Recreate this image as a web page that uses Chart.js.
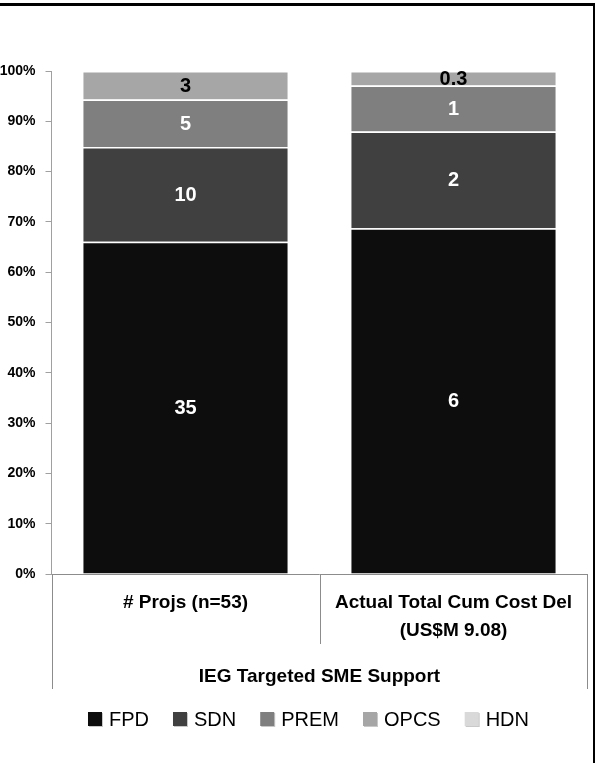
<!DOCTYPE html>
<html>
<head>
<meta charset="utf-8">
<script src="https://cdn.jsdelivr.net/npm/chart.js@4.4.1/dist/chart.umd.min.js"></script>
<style>
  html, body { margin: 0; padding: 0; background: #fff; }
  #wrap { position: relative; width: 595px; height: 763px; overflow: hidden; }
  #frameTop { position: absolute; left: 0; top: 3px; width: 595px; height: 3px; background: #000; }
  #frameRight { position: absolute; left: 593px; top: 3px; width: 2px; height: 760px; background: #000; }
</style>
</head>
<body>
<div id="wrap">
  <canvas id="chart" width="595" height="763"></canvas>
  <div id="frameTop"></div>
  <div id="frameRight"></div>
</div>
<script>
// categories and group heading under the axis
const categories = [["# Projs (n=53)"], ["Actual Total Cum Cost Del", "(US$M 9.08)"]];
const groupLabel = "IEG Targeted SME Support";

// series (stack order bottom -> top)
const seriesNames = ["FPD", "SDN", "PREM", "OPCS", "HDN"];
const seriesColors = ["#0d0d0d", "#404040", "#7f7f7f", "#a6a6a6", "#d9d9d9"];
const labelColors = ["#fff", "#fff", "#fff", "#000", "#000"];

// values
const projCounts = [35, 10, 5, 3, 0];          // number of projects
const costUSDm = [6.24, 1.75, 0.83, 0.26, 0];  // US$M, total 9.08

const yTicks = [0, 10, 20, 30, 40, 50, 60, 70, 80, 90, 100];

const FONT = "'Liberation Sans', Arial, sans-serif";

const sum = arr => arr.reduce((a, b) => a + b, 0);
const projTotal = sum(projCounts);
const costTotal = sum(costUSDm);

// labels on the bars: whole numbers, small ones with one decimal
const fmt = v => (v >= 0.5 ? String(Math.round(v)) : v.toFixed(1));

const datasets = seriesNames.map((name, i) => ({
  label: name,
  data: [projCounts[i] / projTotal * 100, costUSDm[i] / costTotal * 100],
  raw: [projCounts[i], costUSDm[i]],
  backgroundColor: seriesColors[i],
  borderColor: "#ffffff",
  borderWidth: { top: 1.5, left: 0, right: 0, bottom: 0 },
  borderSkipped: false,
  labelColor: labelColors[i],
  categoryPercentage: 1,
  barPercentage: 0.763,
}));

// value labels in the middle of each segment
const valueLabels = {
  id: "valueLabels",
  afterDatasetsDraw(chart) {
    const ctx = chart.ctx;
    ctx.save();
    ctx.font = "bold 20px " + FONT;
    ctx.textAlign = "center";
    ctx.textBaseline = "middle";
    chart.data.datasets.forEach((ds, i) => {
      chart.getDatasetMeta(i).data.forEach((bar, j) => {
        const v = ds.raw[j];
        if (!v) return;
        ctx.fillStyle = ds.labelColor;
        ctx.fillText(fmt(v), bar.x, (bar.y + bar.base) / 2 + 1);
      });
    });
    ctx.restore();
  },
};

// category dividers below the axis + legend row
const axisDressing = {
  id: "axisDressing",
  afterDraw(chart) {
    const ctx = chart.ctx;
    const area = chart.chartArea;
    const xs = chart.scales.x;
    ctx.save();
    ctx.strokeStyle = "#8c8c8c";
    ctx.lineWidth = 1;
    const mid = Math.round((xs.getPixelForValue(0) + xs.getPixelForValue(1)) / 2) + 0.5;
    ctx.beginPath();
    ctx.moveTo(Math.round(area.left) + 0.5, area.bottom);
    ctx.lineTo(Math.round(area.left) + 0.5, xs.bottom);
    ctx.moveTo(Math.round(area.right) - 0.5, area.bottom);
    ctx.lineTo(Math.round(area.right) - 0.5, xs.bottom);
    ctx.moveTo(mid, area.bottom);
    ctx.lineTo(mid, area.bottom + 70);
    ctx.stroke();

    // legend
    ctx.font = "20px " + FONT;
    ctx.textBaseline = "middle";
    ctx.textAlign = "left";
    const box = 14, gapText = 7, gapItem = 24;
    const widths = seriesNames.map(n => box + gapText + ctx.measureText(n).width);
    const total = sum(widths) + gapItem * (widths.length - 1);
    let x = (area.left + area.right) / 2 - 11 - total / 2;
    const y = xs.bottom + 30;
    seriesNames.forEach((n, i) => {
      ctx.fillStyle = "#c8c8c8";
      ctx.fillRect(x + 1, y - box / 2 + 1, box, box);
      ctx.fillStyle = seriesColors[i];
      ctx.fillRect(x, y - box / 2, box, box);
      ctx.fillStyle = "#000";
      ctx.fillText(n, x + box + gapText, y + 1);
      x += widths[i] + gapItem;
    });
    ctx.restore();
  },
};

new Chart(document.getElementById("chart"), {
  type: "bar",
  data: { labels: categories, datasets },
  options: {
    responsive: false,
    animation: false,
    devicePixelRatio: 1,
    layout: { padding: { top: 71, left: 0, right: 7.5, bottom: 74 } },
    plugins: {
      legend: { display: false },
      tooltip: { enabled: false },
    },
    scales: {
      x: {
        stacked: true,
        offset: true,
        grid: { display: false },
        border: { color: "#8c8c8c", width: 1 },
        ticks: {
          color: "#000",
          font: { family: FONT, size: 19, weight: "bold", lineHeight: 1.47 },
          padding: 7,
          maxRotation: 0,
          autoSkip: false,
        },
        title: {
          display: true,
          text: groupLabel,
          color: "#000",
          font: { family: FONT, size: 19, weight: "bold", lineHeight: 1.2 },
          padding: { top: 0, bottom: 1 },
        },
        afterFit(scale) { scale.height = 115; },
      },
      y: {
        stacked: true,
        min: 0,
        max: 100,
        afterBuildTicks(scale) { scale.ticks = yTicks.map(v => ({ value: v })); },
        grid: { drawOnChartArea: false, drawTicks: true, tickLength: 6, color: "#a0a0a0" },
        border: { color: "#a0a0a0", width: 1 },
        ticks: {
          color: "#000",
          font: { family: FONT, size: 14, weight: "bold" },
          padding: 10,
          callback: v => v + "%",
        },
        afterFit(scale) { scale.width = 51.5; },
      },
    },
  },
  plugins: [valueLabels, axisDressing],
});
</script>
</body>
</html>
